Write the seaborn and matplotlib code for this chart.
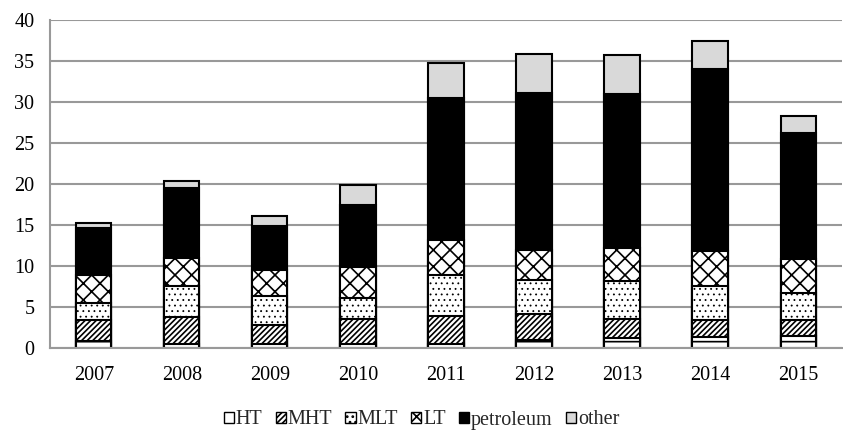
import numpy as np
import pandas as pd
import seaborn as sns
import matplotlib.pyplot as plt
from matplotlib.patches import Patch

years = ["2007", "2008", "2009", "2010", "2011", "2012", "2013", "2014", "2015"]
ht = [0.77, 0.45, 0.45, 0.5, 0.49, 0.98, 1.18, 1.3, 1.38]
mht = [2.64, 3.25, 2.35, 3.0, 3.33, 3.12, 2.32, 2.11, 2.03]
mlt = [2.04, 3.86, 3.46, 2.56, 5.08, 4.19, 4.59, 4.07, 3.26]
lt = [3.45, 3.34, 3.17, 3.84, 4.19, 3.66, 4.06, 4.35, 4.18]
petroleum = [5.7, 8.65, 5.37, 7.5, 17.36, 19.11, 18.83, 22.17, 15.35]
other = [0.6, 0.85, 1.3, 2.4, 4.25, 4.74, 4.72, 3.44, 2.1]

series = ["HT", "MHT", "MLT", "LT", "petroleum", "other"]
df = pd.DataFrame({"year": years, "HT": ht, "MHT": mht, "MLT": mlt,
                   "LT": lt, "petroleum": petroleum, "other": other})
# cumulative tops so the stack can be drawn from the top layer down
cum = df[series].cumsum(axis=1)
cum["year"] = years

sns.set_style("white")
plt.rcParams['font.family'] = ['Liberation Serif', 'DejaVu Serif']
plt.rcParams['hatch.linewidth'] = 1.2

styles = {
    "HT": ("white", "-"),
    "MHT": ("white", "//////"),
    "MLT": ("white", "..."),
    "LT": ("white", "xx"),
    "petroleum": ("black", ""),
    "other": ("#d9d9d9", ""),
}
hatch_lw = {"MLT": 0.6}

fig, ax = plt.subplots(figsize=(8.43, 4.32), dpi=100)

for name in reversed(series):
    fc, hatch = styles[name]
    before = len(ax.patches)
    sns.barplot(data=cum, x="year", y=name, color=fc, width=0.4,
                edgecolor="black", linewidth=1.5, saturation=1, ax=ax)
    for p in ax.patches[before:]:
        p.set_hatch(hatch)
        p.set_facecolor(fc)
        if name in hatch_lw and hasattr(p, "set_hatch_linewidth"):
            p.set_hatch_linewidth(hatch_lw[name])

grey = "#999999"
ax.set_ylim(0, 40)
ax.set_yticks(range(0, 41, 5))
ax.set_xlim(-0.5, len(years) - 0.5)
ax.yaxis.grid(True, color=grey, linewidth=1.5)
ax.set_axisbelow(True)
ax.set_xlabel("")
ax.set_ylabel("")
sns.despine(ax=ax, top=True, right=True)
for side in ["left", "bottom"]:
    ax.spines[side].set_color(grey)
    ax.spines[side].set_linewidth(1.5)
ax.tick_params(axis="both", labelsize=14.5, colors="black")
ax.tick_params(axis="y", length=6, color=grey, width=1.5, pad=5)
ax.tick_params(axis="x", length=0, pad=13)
# x minor ticks between categories
ax.set_xticks(np.arange(-0.5, len(years), 1), minor=True)
ax.tick_params(axis="x", which="minor", length=6, color=grey, width=1.5)

handles = []
for s in series:
    h = Patch(facecolor=styles[s][0], edgecolor="black", hatch=styles[s][1],
              linewidth=1)
    if s in hatch_lw and hasattr(h, "set_hatch_linewidth"):
        h.set_hatch_linewidth(hatch_lw[s])
    handles.append(h)
fig.legend(handles, series, loc="center", ncol=6, frameon=False,
           fontsize=14.5, handlelength=0.5, handleheight=0.5,
           handletextpad=0.1, columnspacing=0.65,
           bbox_to_anchor=(0.5, 1 - 420 / 432))

fig.subplots_adjust(left=0.059, right=0.999, top=0.954, bottom=0.195)
fig.savefig("out.png", dpi=100)
